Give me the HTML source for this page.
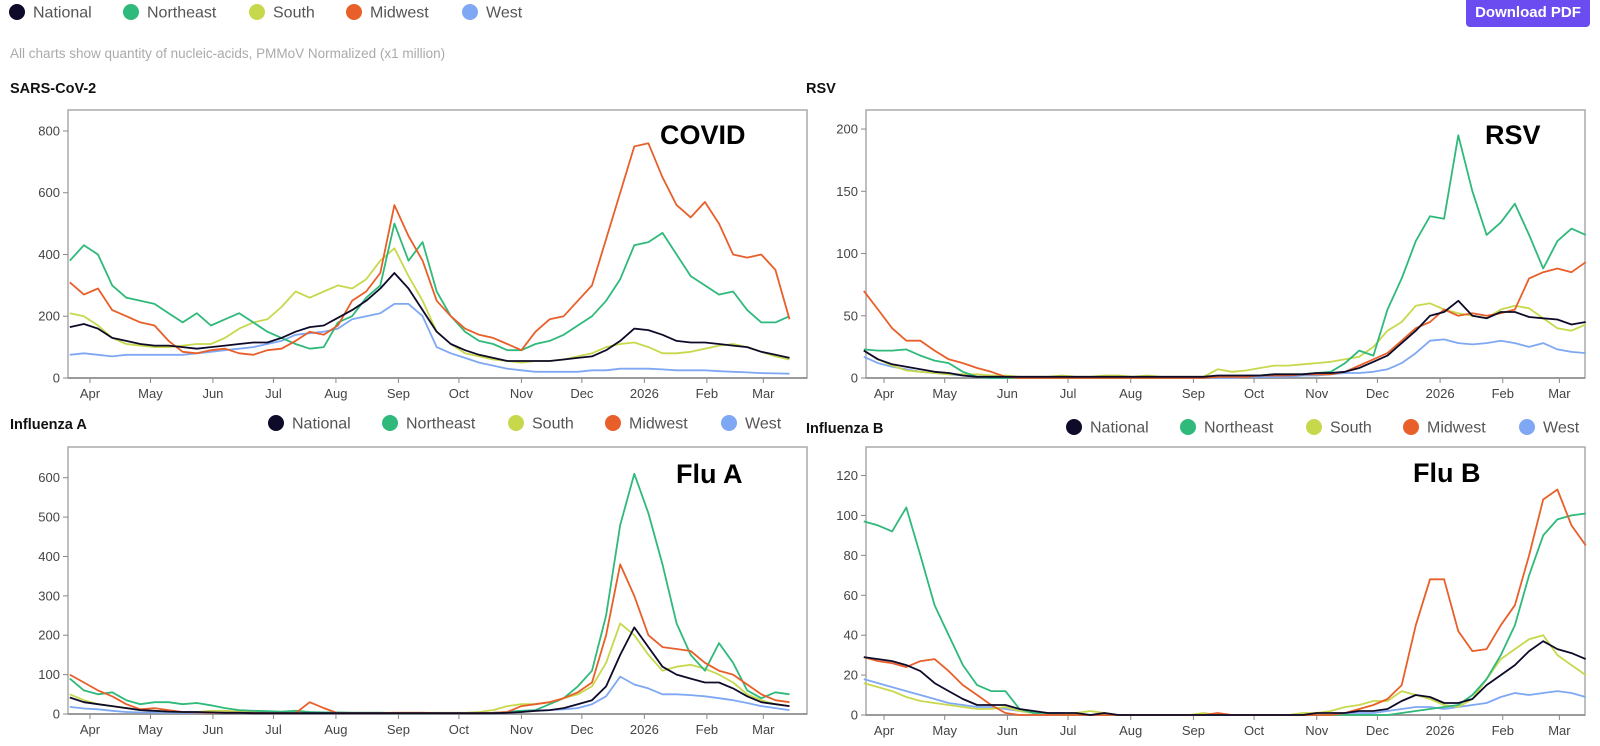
<!DOCTYPE html>
<html><head><meta charset="utf-8">
<style>
html,body{margin:0;padding:0;background:#fff;width:1600px;height:746px;overflow:hidden;font-family:"Liberation Sans",sans-serif;}
svg text{font-family:"Liberation Sans",sans-serif;}
</style></head>
<body>
<svg id="root" width="1600" height="746" viewBox="0 0 1600 746"></svg>
<script>
// ---- shared data ----
const seriesNames = ["National","Northeast","South","Midwest","West"];
const monthLabels = ["Apr","May","Jun","Jul","Aug","Sep","Oct","Nov","Dec","2026","Feb","Mar"];
const monthDays = [11,41,72,102,133,164,194,225,255,286,317,345]; // days since 2025-03-21
const startDay = 1, stepDays = 7; // weekly samples

// ---- SARS-CoV-2 ----
const covidTicks = [0,200,400,600,800];
const covidNational = [165,175,160,130,120,110,105,105,100,95,100,105,110,115,115,130,150,165,170,195,220,250,290,340,290,220,150,110,90,75,65,55,55,55,55,60,65,70,90,120,160,155,140,120,115,115,110,105,100,85,75,65];
const covidNortheast = [380,430,400,300,260,250,240,210,180,210,170,190,210,180,150,130,110,95,100,180,200,260,300,500,380,440,280,200,150,120,110,90,90,110,120,140,170,200,250,320,430,440,470,400,330,300,270,280,220,180,180,200];
const covidSouth = [210,200,170,130,110,105,100,100,105,110,110,130,160,180,190,230,280,260,280,300,290,320,380,420,330,250,150,110,80,70,60,55,50,55,55,60,70,80,100,110,115,100,80,80,85,95,105,110,100,85,70,60];
const covidMidwest = [310,270,290,220,200,180,170,120,85,80,90,95,80,75,90,95,120,150,140,170,250,280,340,560,460,380,250,200,160,140,130,110,90,150,190,200,250,300,450,600,750,760,650,560,520,570,500,400,390,400,350,190];
const covidWest = [75,80,75,70,75,75,75,75,75,80,85,90,95,100,110,120,140,145,150,160,190,200,210,240,240,200,100,80,65,50,40,30,25,20,20,20,20,25,25,30,30,30,28,25,25,25,22,20,18,16,15,14];

// ---- RSV ----
const rsvTicks = [0,50,100,150,200];
const rsvNational = [22,15,11,9,7,5,4,2,1,1,1,1,1,1,1,1,1,1,1,1,1,1,1,1,1,2,2,2,2,3,3,3,4,4,5,8,13,18,28,38,50,53,62,50,48,53,53,49,48,47,43,45];
const rsvNortheast = [23,22,22,23,18,14,12,5,1,0,0,0,0,0,0,0,0,0,0,0,0,0,0,0,1,1,1,2,2,3,3,3,4,5,12,22,18,55,80,110,130,128,195,150,115,125,140,115,88,110,120,115];
const rsvSouth = [22,15,10,6,5,4,3,3,3,2,2,1,1,1,2,1,1,2,2,1,2,1,1,1,1,7,5,6,8,10,10,11,12,13,15,17,25,38,45,58,60,55,52,50,48,55,58,56,48,40,38,43];
const rsvMidwest = [70,55,40,30,30,22,15,12,8,5,1,0,0,0,0,0,0,0,0,0,0,0,0,0,0,1,1,1,2,2,2,3,3,3,5,10,15,20,30,40,45,55,50,52,50,52,55,80,85,88,85,93];
const rsvWest = [17,12,9,7,5,4,3,2,1,1,0,0,0,0,0,0,0,0,0,0,0,0,0,0,0,0,0,1,1,1,1,2,2,3,4,4,5,7,12,20,30,31,28,27,28,30,28,25,28,23,21,20];

// ---- Influenza A ----
const fluATicks = [0,100,200,300,400,500,600];
const fluANational = [42,30,25,20,15,10,8,6,5,5,4,3,3,2,2,2,2,2,2,2,2,2,2,2,2,2,2,2,2,2,2,3,5,8,10,15,25,35,70,150,220,170,120,100,90,80,80,65,45,30,25,20];
const fluANortheast = [90,60,50,55,35,25,30,30,25,28,22,15,10,8,7,6,8,5,4,4,3,3,3,2,2,2,2,2,2,2,3,5,8,10,25,40,70,110,250,480,610,510,380,230,150,110,180,130,60,40,55,50];
const fluASouth = [50,35,25,20,15,10,8,6,5,5,8,8,6,6,5,5,4,3,3,3,3,3,3,3,3,3,3,3,3,5,10,20,25,25,30,40,50,70,130,230,200,150,110,120,125,115,100,80,50,35,25,20];
const fluAMidwest = [100,80,60,45,25,12,15,10,5,4,3,3,3,3,2,2,2,30,15,2,2,2,2,3,3,3,2,2,2,2,3,5,20,25,30,40,55,80,200,380,300,200,170,165,160,130,110,100,75,50,35,30];
const fluAWest = [18,14,12,8,5,4,4,3,3,3,3,3,3,3,3,3,3,3,3,3,3,3,3,2,2,2,2,2,2,2,2,3,5,8,10,12,15,25,45,95,75,65,50,50,48,45,40,35,28,20,15,10];

// ---- Influenza B ----
const fluBTicks = [0,20,40,60,80,100,120];
const fluBNational = [29,28,27,25,22,16,12,8,5,5,5,3,2,1,1,1,0,1,0,0,0,0,0,0,0,0,0,0,0,0,0,0,1,1,1,2,2,3,7,10,9,6,6,8,15,20,25,32,37,33,31,28];
const fluBNortheast = [97,95,92,104,80,55,40,25,15,12,12,3,1,1,0,0,0,0,0,0,0,0,0,0,0,0,0,0,0,0,0,0,0,0,0,0,0,0,1,2,3,4,5,10,18,30,45,70,90,98,100,101];
const fluBSouth = [16,14,12,9,7,6,5,4,3,3,4,2,1,1,0,1,2,1,0,0,0,0,0,0,1,0,0,0,0,0,0,1,1,2,4,5,7,7,12,10,8,5,4,8,18,28,33,38,40,30,25,20];
const fluBMidwest = [29,27,26,24,27,28,22,15,10,5,1,0,0,0,0,0,0,0,0,0,0,0,0,0,0,1,0,0,0,0,0,0,0,0,1,3,5,8,15,45,68,68,42,32,33,45,55,80,108,113,95,85];
const fluBWest = [18,16,14,12,10,8,6,5,4,4,3,2,1,1,1,0,0,0,0,0,0,0,0,0,0,0,0,0,0,0,0,0,0,0,1,1,1,2,3,4,4,3,4,5,6,9,11,10,11,12,11,9];

const NS = "http://www.w3.org/2000/svg";
const root = document.getElementById('root');
const colors = {National:"#0e0b2a",Northeast:"#2fb97a",South:"#c8d84c",Midwest:"#e85f2a",West:"#7fa8f4"};
function mk(tag, attrs, parent, text){
  const e = document.createElementNS(NS, tag);
  for (const k in attrs) e.setAttribute(k, attrs[k]);
  if (text !== undefined) e.textContent = text;
  (parent||root).appendChild(e);
  return e;
}

function legend(x0, y, prefix){
  const offs = [0,114,240,337,453];
  seriesNames.forEach((n,i)=>{
    const g = mk('g',{});
    
    
    mk('circle',{cx:x0+offs[i],cy:y,r:8,fill:colors[n]},g);
    mk('text',{x:x0+offs[i]+16,y:y+5.5,'font-size':16,fill:'#555'},g,n);
  });
}
legend(17,12,'top');
const sub = mk('text',{x:10,y:58,'font-size':13.5,fill:'#aaa'},root,"All charts show quantity of nucleic-acids, PMMoV Normalized (x1 million)");



const btn = mk('g',{});


mk('rect',{x:1466,y:-4,width:124,height:31,rx:4,fill:'#6a4cf0'},btn);
mk('text',{x:1528,y:17,'font-size':15,'font-weight':'bold',fill:'#fff','text-anchor':'middle'},btn,"Download PDF");

const panels = [
  {title:"SARS-CoV-2",tx:10,ty:93,label:"COVID",lx:660,ly:144,x0:68,x1:807,y0:110,y1:378,ymax:868,ticks:covidTicks,
   data:[covidWest,covidSouth,covidNortheast,covidMidwest,covidNational],dx0:67.8,dk:2.016,id:'covid'},
  {title:"RSV",tx:806,ty:93,label:"RSV",lx:1485,ly:144,x0:866,x1:1585,y0:110,y1:378,ymax:215.3,ticks:rsvTicks,
   data:[rsvWest,rsvSouth,rsvNortheast,rsvMidwest,rsvNational],dx0:861.8,dk:2.022,id:'rsv'},
  {title:"Influenza A",tx:10,ty:429,label:"Flu A",lx:676,ly:483,x0:68,x1:807,y0:447,y1:714,ymax:678,ticks:fluATicks,
   data:[fluAWest,fluASouth,fluANortheast,fluAMidwest,fluANational],dx0:67.8,dk:2.016,id:'flu-a',leg:[276,423]},
  {title:"Influenza B",tx:806,ty:433,label:"Flu B",lx:1413,ly:482,x0:866,x1:1585,y0:447,y1:715,ymax:134.3,ticks:fluBTicks,
   data:[fluBWest,fluBSouth,fluBNortheast,fluBMidwest,fluBNational],dx0:861.8,dk:2.022,id:'flu-b',leg:[1074,427]}
];
const drawOrder = ["West","South","Northeast","Midwest","National"];

panels.forEach(p=>{
  const g = mk('g',{});
  
  
  const t = mk('text',{x:p.tx,y:p.ty,'font-size':14.5,'font-weight':'bold',fill:'#111'},g,p.title);
  
  
  if (p.leg) legend(p.leg[0], p.leg[1], p.id);
  const xs = d => p.dx0 + d*p.dk;
  const ys = v => p.y1 - v/p.ymax*(p.y1-p.y0);
  mk('rect',{x:p.x0,y:p.y0,width:p.x1-p.x0,height:p.y1-p.y0,fill:'none',stroke:'#aaa','stroke-width':1.5},g);
  const yax = mk('g',{},g);
  
  
  p.ticks.forEach(v=>{
    const y = ys(v);
    mk('line',{x1:p.x0-5,x2:p.x0,y1:y,y2:y,stroke:'#888','stroke-width':1},yax);
    mk('text',{x:p.x0-8,y:y+4.5,'font-size':13,fill:'#444','text-anchor':'end'},yax,String(v));
  });
  const xax = mk('g',{},g);
  
  
  mk('line',{x1:p.x0,x2:p.x1,y1:p.y1,y2:p.y1,stroke:'#888','stroke-width':1.5},xax);
  monthDays.forEach((d,i)=>{
    const x = xs(d);
    mk('line',{x1:x,x2:x,y1:p.y1,y2:p.y1+5,stroke:'#888','stroke-width':1},xax);
    mk('text',{x:x,y:p.y1+20,'font-size':13,fill:'#444','text-anchor':'middle'},xax,monthLabels[i]);
  });
  p.data.forEach((arr,si)=>{
    const name = drawOrder[si];
    const pts = arr.map((v,i)=> xs(startDay+i*stepDays).toFixed(1)+','+ys(v).toFixed(1)).join(' ');
    const pl = mk('polyline',{points:pts,fill:'none',stroke:colors[name],'stroke-width':1.8,'stroke-linejoin':'round'},g);
    
    
  });
  const lb = mk('text',{x:p.lx,y:p.ly,'font-size':27,'font-weight':'bold',fill:'#000'},g,p.label);
  
  
});
</script>
</body></html>
